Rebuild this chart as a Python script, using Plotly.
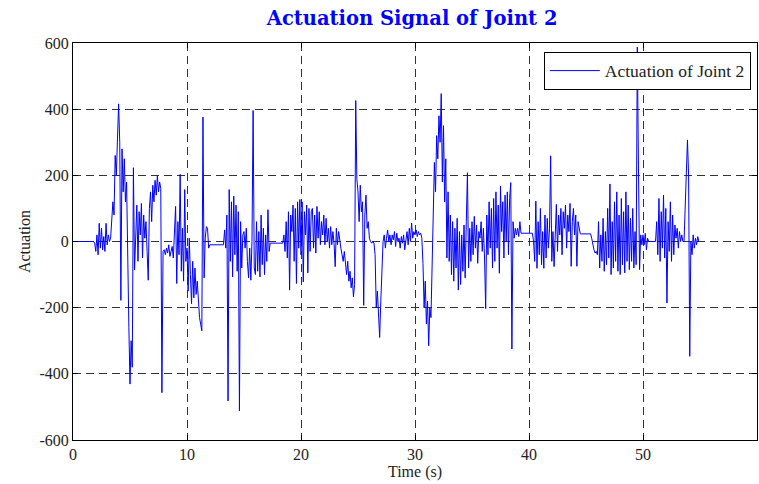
import numpy as np
import plotly.graph_objects as go

# Joint 2 actuation, sampled every 0.1 s (one row per second)
sample_dt = 0.1
actuation = [
    0, 0, 0, 0, 0, 0, 0, 0, 0, 0,
    0, 0, 0, 0, 0, 0, 0, 0, 0, -5,
    -30, 20, -40, 55, -20, 40, -25, 15, -30, 55,
    -10, 20, 0, 10, 60, 120, 80, 260, 200, 360,
    416, 300, -178, 280, 150, 250, 120, 180, -107, -259,
    -431, -300, -380, 223, -86, 40, 110, -60, 90, 20,
    115, -50, 80, 10, 60, -30, -117, 100, 150, 60,
    170, 120, 185, 140, 198, 150, 180, 160, -457, -30,
    -25, -40, -20, -35, -10, -45, -30, -15, -50, 25,
    106, -127, 60, -40, 203, -90, 40, -120, 157, -60,
    -20, -150, 10, -100, -188, -60, -170, -80, -160, -120,
    -200, -230, -250, -270, 376, -110, 10, 45, 40, -20,
    -10, -10, -10, -10, -10, -10, -10, -10, -10, -10,
    -10, -10, -10, 35, -20, 80, -482, 157, -60, 120,
    -107, 137, -40, 110, -90, 90, -512, 60, -80, 20,
    30, -20, 40, -60, -110, -20, -117, 0, 396, -80,
    -100, 60, -90, 30, -107, 80, -70, 40, -100, 20,
    -60, 96, -30, -5, -5, -5, -5, -5, -5, -5,
    -5, -5, -5, -5, -5, 20, -30, 60, -50, 90,
    -147, 80, 30, 110, -60, 100, -127, 120, -20, 127,
    -40, 120, -122, 90, 20, 110, -95, 100, -30, 90,
    100, -20, 80, -35, 106, 10, 90, -10, 60, 20,
    80, -10, 70, 0, 40, -20, 45, -10, 30, -5,
    -76, 40, -10, 30, 0, -20, -40, -60, -30, -80,
    -100, -60, -120, -90, -140, -110, -167, -130, 426, 188,
    150, 60, 170, 90, 120, -193, 80, 140, 40, 60,
    10, 0, -5, 0, -5, -40, -200, -150, -250, -290,
    -180, -60, 0, 20, -20, 10, 35, 0, 20, -10,
    20, 5, 30, -15, 25, 0, 10, -20, 15, -5,
    20, -25, 10, 30, -10, 40, 0, 56, 10, 30,
    20, 35, 15, 30, 20, 25, 10, -66, -200, -120,
    -249, -180, -315, -200, -230, -20, 80, 239, 150, 320,
    250, 380, 300, 447, 180, 350, 120, 250, -50, 150,
    -60, 80, -100, 60, -120, 40, -80, 70, -147, 30,
    -130, 20, -90, 50, -110, 60, 208, -80, 40, -60,
    60, -40, 76, -20, 50, -66, 30, 10, 60, -30,
    40, -50, -203, 80, -40, 120, -20, 100, -80, 130,
    -60, 150, -20, 110, -96, 167, 30, 120, -50, 140,
    0, 150, -40, 130, 178, -325, 60, 10, 40, 20,
    40, 15, 60, 25, 25, 25, 25, 25, 25, 25,
    25, 25, 25, 25, 0, -60, 122, -81, 60, -40,
    100, -70, 30, -81, 80, -50, 70, -20, 40, 259,
    -60, 30, -76, 60, 112, -30, 80, 20, 100, -40,
    90, 40, 110, -20, 80, 30, 115, -75, 60, 100,
    20, 80, -75, 60, 40, 23, 23, 23, 23, 23,
    23, 23, 23, 23, 23, 10, -10, -25, -35, -30,
    -40, 60, -80, 20, -60, 70, -90, 30, -70, 100,
    -50, 174, -100, 60, -80, 120, -60, 150, -90, 80,
    -100, 130, -70, 90, -95, 150, -60, 110, -85, 70,
    -60, 100, -80, 30, -70, 588, 231, -85, 20, -10,
    20, -10, 25, -25, 10, 0, 0, 0, 0, 0,
    0, 0, 60, -40, 130, -60, 90, -20, 140, -50,
    100, -186, 60, -30, 120, -60, 80, -40, 50, 10,
    40, -20, 30, 0, 20, 0, 0, 120, 250, 307,
    200, -347, 0, -40, 20, -20, 10, -10, 15, 0,
]
time_s = np.arange(len(actuation)) * sample_dt

x_ticks = [0, 10, 20, 30, 40, 50, 60]
y_ticks = [-600, -400, -200, 0, 200, 400, 600]
y_tick_text = [str(v) for v in y_ticks]  # plain hyphen minus

serif = "Liberation Serif"
text_color = "#222222"

fig = go.Figure()
fig.add_trace(go.Scatter(
    x=time_s, y=actuation, mode="lines",
    line=dict(color="#0000ff", width=1),
    name="Actuation of Joint 2",
))

axis_common = dict(
    showline=True, linecolor="black", linewidth=1, mirror="ticks",
    ticks="inside", ticklen=5, tickcolor="black",
    showgrid=True, gridcolor="#333333", griddash="8px,5px", gridwidth=1,
    zeroline=False,
    tickfont=dict(family=serif, size=16, color=text_color),
)

fig.update_layout(
    width=759, height=484,
    margin=dict(l=73, r=2, t=43, b=44),
    paper_bgcolor="white", plot_bgcolor="white",
    title=dict(
        text="<b>Actuation Signal of Joint 2</b>",
        font=dict(family="DejaVu Serif", size=19.5, color="#0000ff"),
        x=0.543, xanchor="center", y=0.963, yanchor="middle",
    ),
    xaxis=dict(range=[0, 60], tickvals=x_ticks,
               title=dict(text="Time (s)", standoff=1,
                          font=dict(family=serif, size=16, color=text_color)),
               **axis_common),
    yaxis=dict(range=[-600, 600], tickvals=y_ticks, ticktext=y_tick_text,
               title=dict(text="Actuation", standoff=4,
                          font=dict(family=serif, size=16, color=text_color)),
               **axis_common),
    showlegend=True,
    legend=dict(
        x=0.991, xanchor="right", y=0.978, yanchor="top",
        bgcolor="white", bordercolor="black", borderwidth=1,
        itemwidth=50,
        font=dict(family=serif, size=17.5, color=text_color),
    ),
)

fig.write_html("out.html")
